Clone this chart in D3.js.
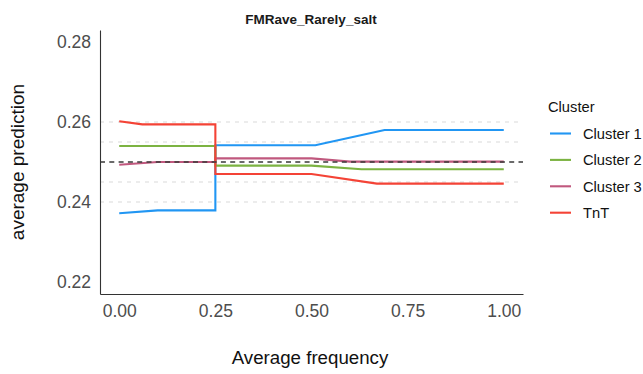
<!DOCTYPE html>
<html>
<head>
<meta charset="utf-8">
<script src="https://cdn.jsdelivr.net/npm/d3@7"></script>
<style>
  body { margin: 0; background: #fff; }
  text { font-family: "Liberation Sans", Arial, sans-serif; }
</style>
</head>
<body>
<div id="chart"></div>
<script>
// series values: [average frequency, average prediction]
const seriesNames = ["Cluster 1", "Cluster 2", "Cluster 3", "TnT"];
const seriesColors = ["#2196F3", "#7CB342", "#C0587E", "#F44336"];
const cluster1 = [[0, 0.2372], [0.1, 0.2379], [0.25, 0.2379], [0.25, 0.2542], [0.51, 0.2542], [0.69, 0.2580], [1, 0.2580]];
const cluster2 = [[0, 0.2540], [0.25, 0.2540], [0.25, 0.2491], [0.5, 0.2491], [0.63, 0.2482], [1, 0.2482]];
const cluster3 = [[0, 0.2493], [0.1, 0.2500], [0.25, 0.2500], [0.25, 0.2509], [0.5, 0.2509], [0.6, 0.2501], [1, 0.2501]];
const tnt = [[0, 0.2602], [0.06, 0.2594], [0.25, 0.2594], [0.25, 0.2470], [0.5, 0.2470], [0.67, 0.2446], [1, 0.2446]];
const xTicks = [0, 0.25, 0.5, 0.75, 1];
const yTicks = [0.22, 0.24, 0.26, 0.28];
const gridValues = [0.24, 0.245, 0.255, 0.26];
const refValue = 0.25;

const allSeries = [cluster1, cluster2, cluster3, tnt];

const width = 643, height = 374;
const svg = d3.select("#chart").append("svg")
  .attr("width", width)
  .attr("height", height);

const x = d3.scaleLinear().domain([-0.05, 1.05]).range([100, 523]);
const y = d3.scaleLinear().domain([0.217, 0.283]).range([294, 30]);

// title
svg.append("text")
  .attr("x", 311).attr("y", 24)
  .attr("text-anchor", "middle")
  .style("font-size", "13.5px")
  .style("font-weight", "bold")
  .attr("fill", "#1a1a1a")
  .text("FMRave_Rarely_salt");

// light dashed reference lines
svg.selectAll(".grid").data(gridValues).enter()
  .append("line")
  .attr("class", "grid")
  .attr("x1", x.range()[0]).attr("x2", x.range()[1])
  .attr("y1", d => y(d)).attr("y2", d => y(d))
  .attr("stroke", "#d9d9d9")
  .attr("stroke-width", 1)
  .attr("stroke-dasharray", "4,5");

// series lines
const line = d3.line().x(d => x(d[0])).y(d => y(d[1]));
allSeries.forEach(function (s, i) {
  svg.append("path")
    .datum(s)
    .attr("d", line)
    .attr("fill", "none")
    .attr("stroke", seriesColors[i])
    .attr("stroke-width", 2.1);
});

// dark reference line drawn over the series
svg.append("line")
  .attr("x1", x.range()[0]).attr("x2", x.range()[1])
  .attr("y1", y(refValue)).attr("y2", y(refValue))
  .attr("stroke", "#3a3a3a")
  .attr("stroke-width", 1.5)
  .attr("stroke-dasharray", "5,4.3");

// axes
const xAxis = svg.append("g")
  .attr("transform", "translate(0," + y.range()[0] + ")")
  .call(d3.axisBottom(x).tickValues(xTicks).tickFormat(d3.format(".2f")).tickSize(0).tickPadding(11));
const yAxis = svg.append("g")
  .attr("transform", "translate(" + x.range()[0] + ",0)")
  .call(d3.axisLeft(y).tickValues(yTicks).tickFormat(d3.format(".2f")).tickSize(0).tickPadding(9));

[xAxis, yAxis].forEach(function (g) {
  g.select(".domain").attr("stroke", "#333").attr("stroke-width", 1.1);
  g.selectAll("text")
    .attr("fill", "#4d4d4d")
    .style("font-size", "17.5px")
    .style("font-family", "'Liberation Sans', Arial, sans-serif");
});

// axis titles
svg.append("text")
  .attr("x", 310).attr("y", 364)
  .attr("text-anchor", "middle")
  .style("font-size", "18.7px")
  .attr("fill", "#111")
  .text("Average frequency");

svg.append("text")
  .attr("transform", "translate(24,162) rotate(-90)")
  .attr("text-anchor", "middle")
  .style("font-size", "19px")
  .attr("fill", "#111")
  .text("average prediction");

// legend
const legend = svg.append("g").attr("transform", "translate(548,0)");
legend.append("text")
  .attr("x", 0).attr("y", 112)
  .style("font-size", "14.7px")
  .attr("fill", "#111")
  .text("Cluster");

const items = legend.selectAll(".item").data(seriesNames).enter()
  .append("g")
  .attr("class", "item")
  .attr("transform", (d, i) => "translate(0," + (133.5 + i * 26.4) + ")");
items.append("line")
  .attr("x1", 2).attr("x2", 23)
  .attr("stroke", (d, i) => seriesColors[i])
  .attr("stroke-width", 2.1);
items.append("text")
  .attr("x", 35).attr("y", 5.5)
  .style("font-size", "14.7px")
  .attr("fill", "#111")
  .text(d => d);
</script>
</body>
</html>
